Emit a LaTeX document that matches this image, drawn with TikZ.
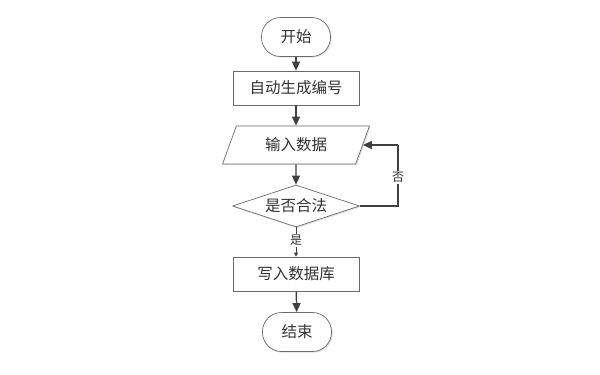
\documentclass[tikz,border=0pt]{standalone}
\usepackage{fontspec}
\newfontfamily\cjk{Noto Sans CJK SC}
\usetikzlibrary{shapes.geometric,arrows.meta,shadows}
\definecolor{edge}{HTML}{6A6A6A}
\definecolor{arr}{HTML}{404040}
\begin{document}
\begin{tikzpicture}[x=1pt,y=-1pt,
  every node/.style={font=\cjk\fontsize{15.5}{17}\selectfont, text=black!80, inner sep=0pt},
  sh/.style={drop shadow={shadow xshift=1.2pt,shadow yshift=-1.2pt,fill=black!12,opacity=1}},
  term/.style={draw=edge, line width=0.7pt, fill=white, rounded corners=19pt, minimum width=69pt, minimum height=39pt, sh},
  proc/.style={draw=edge, line width=0.7pt, fill=white, minimum width=126pt, minimum height=34pt, sh},
  io/.style={draw=edge, line width=0.7pt, fill=white, trapezium, trapezium left angle=63.5, trapezium right angle=116.5, trapezium stretches=true, minimum width=147pt, minimum height=38pt, sh},
  dec/.style={draw=edge, line width=0.7pt, fill=white, diamond, aspect=3, minimum width=127pt, minimum height=42pt, sh},
  flow/.style={draw=arr, line width=1.4pt, -{Triangle[width=8pt,length=9pt]}},
  lab/.style={fill=white, inner sep=1.5pt, font=\cjk\fontsize{12}{14}\selectfont}
]
\useasboundingbox (0,0) rectangle (600,375);
\node[term] (start) at (296,37) {开始};
\node[proc] (gen) at (296,88) {自动生成编号};
\node[io] (inp) at (296,145) {输入数据};
\node[dec] (chk) at (296,206) {是否合法};
\node[proc] (wr) at (296,274) {写入数据库};
\node[term] (end) at (297,332) {结束};
\coordinate (c1) at (398,206);
\coordinate (c2) at (398,145);
\draw[flow] (start) -- (gen);
\draw[flow] (gen) -- (inp);
\draw[flow] (inp) -- (chk);
\draw[draw=arr, line width=1pt, -{Triangle[width=4pt,length=4pt]}] (chk.south) -- node[lab, pos=0.45] (yes) {是} (wr.north);
\draw[draw=arr, line width=1.4pt] (chk.east) -- (c1) -- node[lab, pos=0.47] (no) {否} (c2);
\draw[flow, line width=1.4pt] (c2) -- (inp.east);
\draw[flow] (wr) -- (end);
\end{tikzpicture}
\end{document}
